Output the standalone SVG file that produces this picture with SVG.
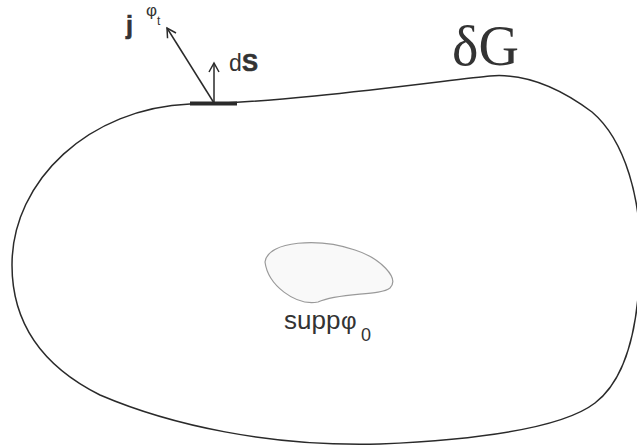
<svg xmlns="http://www.w3.org/2000/svg" width="637" height="448" viewBox="0 0 637 448">
<style>
.t{font-family:"Liberation Sans",Arial,sans-serif;fill:#333}
.b{font-weight:bold;stroke:#333;stroke-width:0.6}
.outline{fill:none;stroke:#2a2a2a;stroke-width:1.5}
.arr{fill:none;stroke:#2a2a2a;stroke-width:1.5}
</style>
<defs>
<marker id="ah" viewBox="0 0 12 12" refX="10" refY="6" markerWidth="12" markerHeight="12" markerUnits="userSpaceOnUse" orient="auto">
<path d="M1,1 L10,6 L1,11" fill="none" stroke="#2a2a2a" stroke-width="1.5"/>
</marker>
</defs>
<rect width="637" height="448" fill="#fff"/>
<g id="boundary">
<path class="outline" d="M190,104 C280,104 455,79 490,76 C525,73 560,88 592,112 C625,140 642,200 640,260 C639,330 625,380 595,403 C560,430 470,440 380,444 C270,447 170,425 100,395 C40,365 12,320 12,265 C12,180 90,108 190,104 Z"/>
<line x1="190" y1="103.5" x2="237" y2="103.5" stroke="#2a2a2a" stroke-width="4"/>
<text x="452" y="65" font-family="'Liberation Serif','Times New Roman',serif" font-size="56" fill="#333">δG</text>
</g>
<g id="support">
<path d="M265,262 C268,240 320,238 355,250 C380,258 400,278 390,288 C380,296 340,292 318,302 C295,306 268,285 265,262 Z" fill="#f9f9f9" stroke="#9a9a9a" stroke-width="1.2"/>
<text class="t" x="284" y="329" font-size="26">supp</text>
<text class="t" x="341" y="329" font-size="24">φ</text>
<text class="t" x="361" y="341" font-size="18">0</text>
</g>
<g id="connectors">
<line class="arr" x1="214" y1="103" x2="214" y2="63" marker-end="url(#ah)"/>
<line class="arr" x1="214" y1="103" x2="167" y2="28" marker-end="url(#ah)"/>
</g>
<g id="labels">
<text class="t b" x="126" y="34" font-size="25">j</text>
<text class="t" x="146" y="16" font-size="17">φ</text>
<text class="t" x="157" y="25" font-size="12">t</text>
<text class="t" x="229" y="71" font-size="23">d</text>
<text class="t b" x="242" y="71" font-size="24">S</text>
</g>
</svg>
